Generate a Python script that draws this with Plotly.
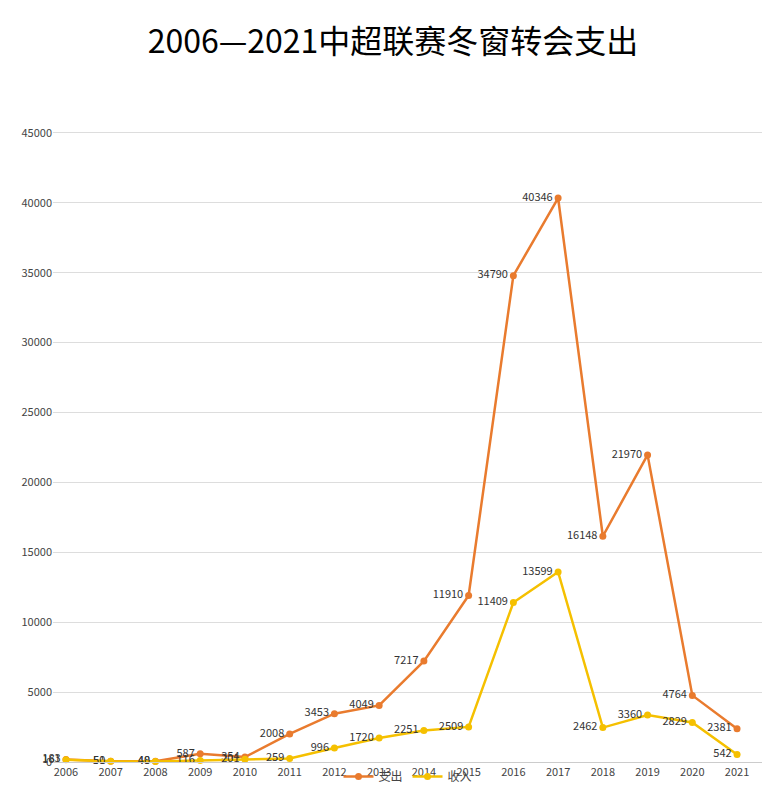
import plotly.graph_objects as go

years = [str(y) for y in range(2006, 2022)]
spend = [183, 51, 48, 587, 354, 2008, 3453, 4049, 7217, 11910, 34790, 40346, 16148, 21970, 4764, 2381]
income = [161, 50, 40, 116, 201, 259, 996, 1720, 2251, 2509, 11409, 13599, 2462, 3360, 2829, 542]

fig = go.Figure()
fig.add_trace(go.Scatter(x=years, y=spend, name="支出", mode="lines+markers+text",
    line=dict(color="#E97B2E", width=2.5), marker=dict(size=7),
    text=[str(v) for v in spend], textposition="middle left",
    textfont=dict(size=11, color="#333"), cliponaxis=False))
fig.add_trace(go.Scatter(x=years, y=income, name="收入", mode="lines+markers+text",
    line=dict(color="#F5C000", width=2.5), marker=dict(size=7),
    text=[str(v) for v in income], textposition="middle left",
    textfont=dict(size=11, color="#333"), cliponaxis=False))
fig.update_layout(
    width=770, height=795, plot_bgcolor="white", paper_bgcolor="white",
    title=dict(text="2006—2021中超联赛冬窗转会支出", x=0.5, y=0.972, xanchor="center",
               font=dict(size=32, color="black", family="Noto Sans CJK SC")),
    font=dict(family="Noto Sans CJK SC", color="#444"),
    margin=dict(l=45, r=15, t=90, b=25),
    xaxis=dict(showgrid=False, tickfont=dict(size=11), showline=True, linecolor="#ccc",
               range=[-0.29, 15.58]),
    yaxis=dict(range=[0, 47500], dtick=5000, gridcolor="#ddd", tickfont=dict(size=11),
               tickformat="d", zeroline=False),
    legend=dict(orientation="h", x=0.5, xanchor="center", y=0.0, yanchor="top",
                font=dict(size=12), bgcolor="rgba(0,0,0,0)"),
)
fig.write_html("out.html")
